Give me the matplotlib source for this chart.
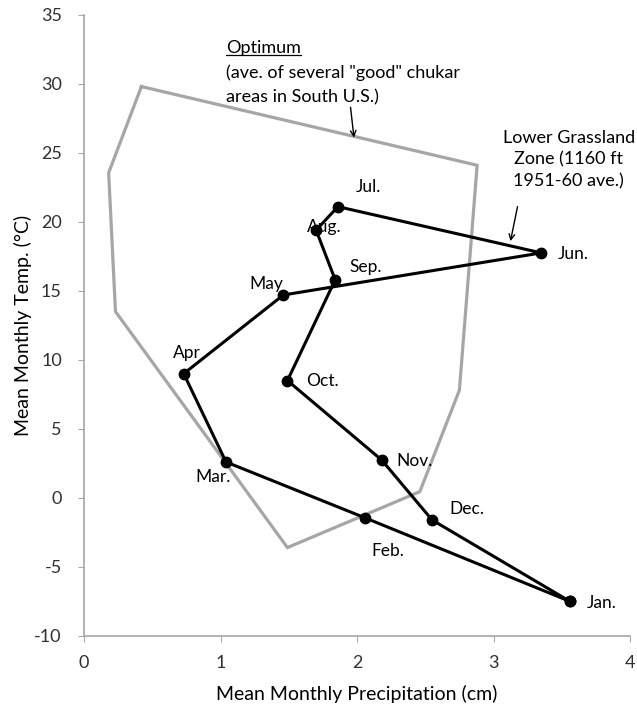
import matplotlib.pyplot as plt

plt.rcParams['font.family'] = ['Lato', 'DejaVu Sans']
plt.rcParams['axes.unicode_minus'] = False

# monthly climate, Lower Grassland Zone (loop Jan..Dec, back to Jan)
months = ["Jan.", "Feb.", "Mar.", "Apr", "May", "Jun.", "Jul.", "Aug.", "Sep.", "Oct.", "Nov.", "Dec."]
precip = [3.56, 2.06, 1.04, 0.73, 1.46, 3.35, 1.86, 1.70, 1.84, 1.49, 2.18, 2.55]
temp = [-7.5, -1.45, 2.6, 9.0, 14.7, 17.75, 21.1, 19.4, 15.8, 8.5, 2.75, -1.6]

# label offsets in points (dx, dy)
label_off = [(23, -1), (16, -24), (-9, -11), (2, 15), (-12, 8), (23, -1),
             (22, 14), (6, 2), (22, 9), (25, 0), (24, -1), (25, 8)]

# "optimum" polygon
opt_x = [0.42, 0.18, 0.23, 1.49, 2.46, 2.75, 2.88, 0.42]
opt_y = [29.8, 23.55, 13.5, -3.6, 0.45, 7.8, 24.1, 29.8]

fig = plt.figure(figsize=(6.37, 7.05), dpi=100)
ax = fig.add_axes([0.132, 0.098, 0.857, 0.881])

ax.plot(opt_x, opt_y, color='#a6a6a6', lw=2.3, solid_joinstyle='miter')
ax.plot(precip + precip[:1], temp + temp[:1], color='black', lw=2.2,
        marker='o', markersize=7.5)

for m, x, y, off in zip(months, precip, temp, label_off):
    ax.annotate(m, (x, y), xytext=off, textcoords='offset points',
                ha='center', va='center', fontsize=12.5)

t_opt = ax.text(1.04, 32.6, "Optimum", fontsize=13, ha='left', va='center')
ax.text(1.04, 30.8, '(ave. of several "good" chukar', fontsize=13, ha='left', va='center')
ax.text(1.04, 29.05, 'areas in South U.S.)', fontsize=13, ha='left', va='center')
ax.annotate("", xy=(1.98, 25.9), xytext=(1.95, 28.5),
            arrowprops=dict(arrowstyle='->', color='black', lw=1))

ax.text(3.55, 24.5, "Lower Grassland\nZone (1160 ft\n1951-60 ave.)", fontsize=13,
        ha='center', va='center', linespacing=1.4)
ax.annotate("", xy=(3.12, 18.4), xytext=(3.18, 21.3),
            arrowprops=dict(arrowstyle='->', color='black', lw=1))

ax.set_xlim(0, 4)
ax.set_ylim(-10, 35)
ax.set_xticks([0, 1, 2, 3, 4])
ax.set_yticks(range(-10, 36, 5))
ax.set_xlabel("Mean Monthly Precipitation (cm)", fontsize=14, labelpad=10)
ax.set_ylabel("Mean Monthly Temp. (°C)", fontsize=14, labelpad=2)
ax.tick_params(labelsize=13, labelcolor='#303030', direction='out', length=4,
               color='#a6a6a6')
ax.tick_params(axis='x', pad=10)
ax.tick_params(axis='y', pad=12)
for s in ['top', 'right']:
    ax.spines[s].set_visible(False)
for s in ['left', 'bottom']:
    ax.spines[s].set_color('#a6a6a6')
    ax.spines[s].set_linewidth(1.2)

# underline "Optimum"
fig.canvas.draw()
bb = t_opt.get_window_extent().transformed(ax.transData.inverted())
ax.plot([bb.x0, bb.x1], [bb.y0 + 0.1, bb.y0 + 0.1], color='black', lw=0.9)

fig.savefig("out.png", dpi=100)
